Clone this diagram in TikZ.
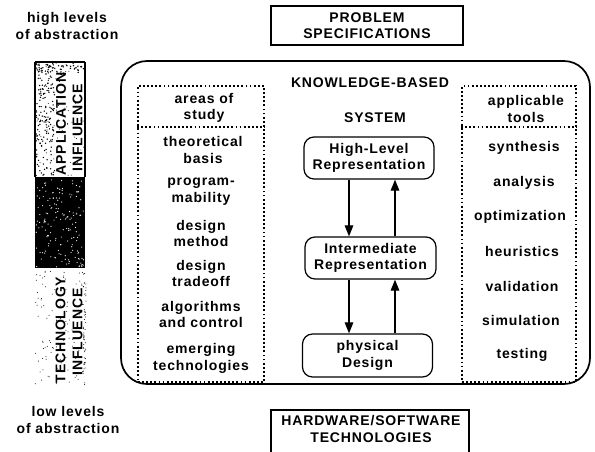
\documentclass[tikz,border=0pt]{standalone}
\usepackage{fontspec}
\setmainfont{Liberation Sans}[LetterSpace=6]
\usetikzlibrary{arrows.meta}
\begin{document}
\begin{tikzpicture}[x=1pt,y=-1pt,
  txt/.style={font=\fontsize{14}{16.5}\selectfont\bfseries, align=center, inner sep=0pt},
  bartxt/.style={font=\fontsize{14}{14}\selectfont\bfseries, inner sep=0pt, rotate=90},
  frame/.style={draw, line width=1.1pt, inner sep=0pt},
  repbox/.style={draw, line width=1.2pt, rounded corners=10pt, inner sep=0pt, txt},
  dotbox/.style={draw, line width=1.8pt, dash pattern=on 1.8pt off 2.3pt, inner sep=0pt},
  dotline/.style={line width=1.8pt, dash pattern=on 1.8pt off 2.3pt},
  arr/.style={line width=1.1pt, -{Triangle[length=11pt,width=8.5pt]}}]
\useasboundingbox (0,0) rectangle (595,451);

% ---------- abstraction labels ----------
\node[txt] (high) at (67,26) {high levels\\of abstraction};
\node[txt] (low) at (68,420) {low levels\\of abstraction};

% ---------- influence bar ----------
\pgfmathsetseed{11}
\fill[white] (35,62) rectangle (85,177);
\foreach \i in {1,...,170}{\fill ({36+19*rnd},{63+113*rnd}) circle[radius=0.75pt];}
\foreach \i in {1,...,60}{\fill ({36+48*rnd},{63+113*rnd}) circle[radius=0.5pt];}
\foreach \i in {1,...,40}{\fill ({36+48*rnd},{63+12*rnd}) circle[radius=0.8pt];}
\draw[line width=1.3pt] (35,62) -- (35,177) (85,62) -- (85,177) (35,62) -- (85,62);
\fill (35,177) rectangle (85,268);
\foreach \i in {1,...,160}{\fill[white] ({36+48*rnd},{179+88*rnd}) circle[radius=0.6pt];}
\foreach \i in {1,...,110}{\fill ({35+50*rnd},{268+118*rnd}) circle[radius=0.5pt];}
\foreach \i in {1,...,50}{\fill ({83+3*rnd},{268+118*rnd}) circle[radius=0.5pt];}
\node[bartxt] (app) at (61,124) {APPLICATION};
\node[bartxt] (infa) at (77.5,128) {INFLUENCE};
\node[bartxt] (tech) at (60.5,330) {TECHNOLOGY};
\node[bartxt] (inft) at (77.5,332) {INFLUENCE};

% ---------- outer boxes ----------
\node[frame, txt, minimum width=192pt, minimum height=39pt] (prob) at (367,25.5) {PROBLEM\\SPECIFICATIONS};
\node[frame, minimum width=198pt, minimum height=52pt] (hwbox) at (370,436) {};
\node[txt] (hw) at (371,429) {HARDWARE/SOFTWARE\\TECHNOLOGIES};

\node[draw, line width=1.7pt, rounded corners=26pt, minimum width=469pt, minimum height=323pt] (kbs) at (355.5,222.5) {};
\node[txt] (kb) at (370,82.5) {KNOWLEDGE-BASED};
\node[txt] (sys) at (375,117.5) {SYSTEM};

% ---------- areas of study ----------
\node[dotbox, minimum width=126pt, minimum height=296pt] (areas) at (201,234) {};
\draw[dotline] (areas.west |- 0,127) coordinate (adl) -- (areas.east |- adl) coordinate (adr);
\node[txt] (ahead) at (204,108) {areas of\\study};
\node[txt] (a1) at (203,150) {theoretical\\basis};
\node[txt] (a2) at (201,191.5) {program-\\mability};
\node[txt] (a3) at (201,233.5) {design\\method};
\node[txt] (a4) at (201,273.5) {design\\tradeoff};
\node[txt] (a5) at (201,314.5) {algorithms\\and control};
\node[txt] (a6) at (201,358.5) {emerging\\technologies};

% ---------- applicable tools ----------
\node[dotbox, minimum width=114pt, minimum height=296pt] (tools) at (519,234) {};
\draw[dotline] (tools.west |- 0,127) coordinate (tdl) -- (tools.east |- tdl) coordinate (tdr);
\node[txt] (thead) at (526,109) {applicable\\tools};
\node[txt] (t1) at (524,148) {synthesis};
\node[txt] (t2) at (524,182.5) {analysis};
\node[txt] (t3) at (520,217) {optimization};
\node[txt] (t4) at (522,251.5) {heuristics};
\node[txt] (t5) at (522,286) {validation};
\node[txt] (t6) at (521,320.5) {simulation};
\node[txt] (t7) at (522,355) {testing};

% ---------- representation chain ----------
\node[repbox, minimum width=130pt, minimum height=42pt] (hl) at (369,158) {High-Level\\Representation};
\node[repbox, minimum width=131pt, minimum height=42pt] (im) at (370.5,258) {Intermediate\\Representation};
\node[repbox, minimum width=130pt, minimum height=43pt] (pd) at (367.5,355.5) {physical\\Design};

\draw[arr] ([xshift=-20pt]hl.south) -- ([xshift=-20pt]hl.south |- im.north);
\draw[arr] ([xshift=26pt]hl.south |- im.north) -- ([xshift=26pt]hl.south);
\draw[arr] ([xshift=-20pt]hl.south |- im.south) -- ([xshift=-20pt]hl.south |- pd.north);
\draw[arr] ([xshift=26pt]hl.south |- pd.north) -- ([xshift=26pt]hl.south |- im.south);
\end{tikzpicture}
\end{document}
